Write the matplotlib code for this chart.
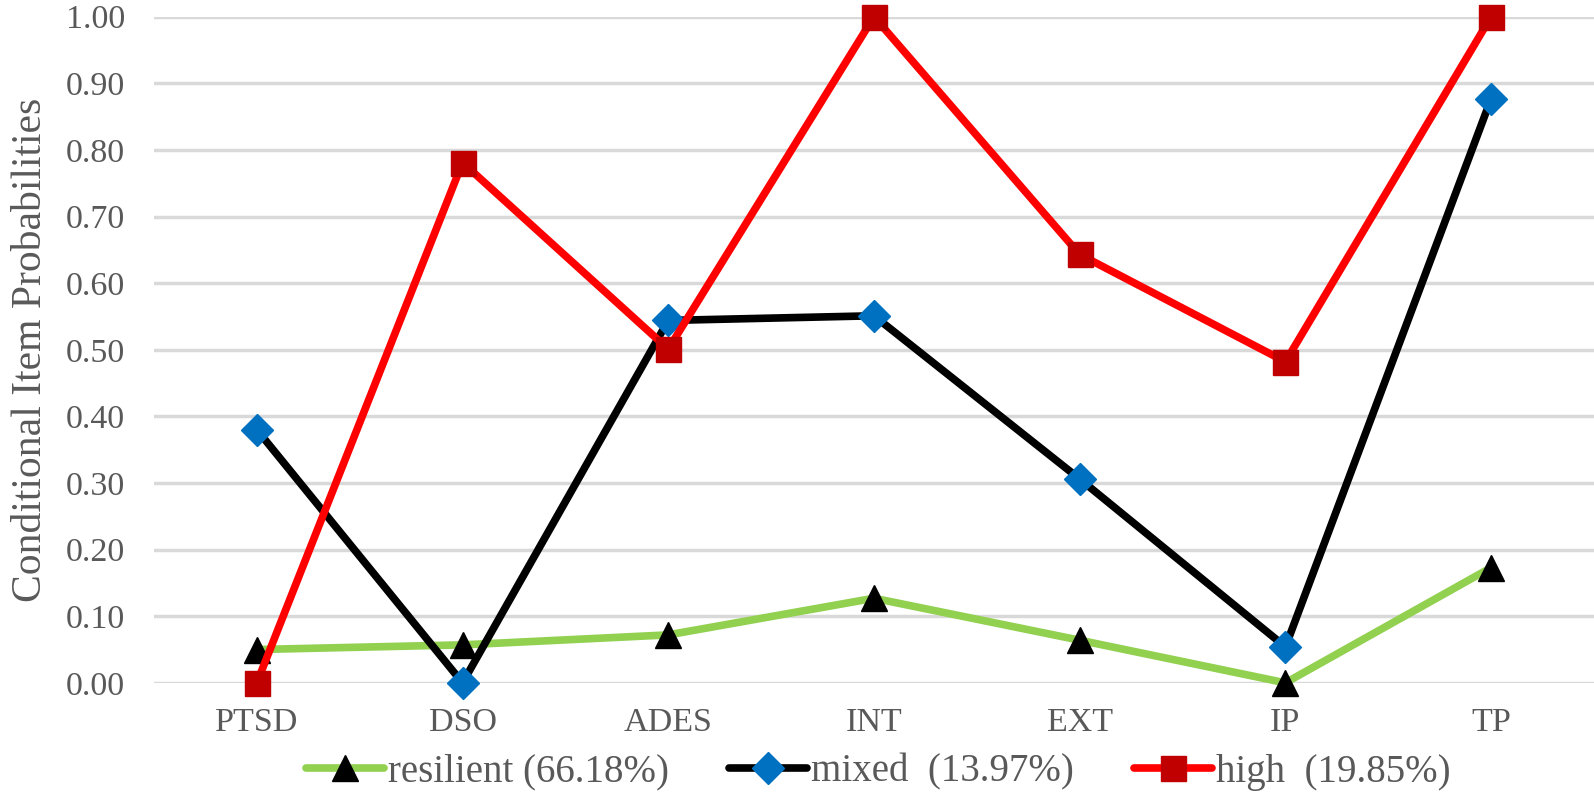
import matplotlib
matplotlib.use("Agg")
import matplotlib.pyplot as plt

# data
categories = ["PTSD", "DSO", "ADES", "INT", "EXT", "IP", "TP"]
resilient = [0.05, 0.057, 0.072, 0.127, 0.064, 0.00, 0.173]
mixed = [0.38, 0.00, 0.544, 0.551, 0.306, 0.054, 0.877]
high = [0.00, 0.781, 0.501, 1.00, 0.643, 0.482, 1.00]
labels = ["resilient (66.18%)", "mixed  (13.97%)", "high  (19.85%)"]
yticks = [0.0, 0.1, 0.2, 0.3, 0.4, 0.5, 0.6, 0.7, 0.8, 0.9, 1.0]

plt.rcParams['font.family'] = ['Liberation Serif', 'DejaVu Serif']
gray = '#595959'

fig = plt.figure(figsize=(15.94, 7.94), dpi=100)
ax = fig.add_axes([0.0966, 0.140, 0.9034, 0.839])

x = list(range(len(categories)))
style = dict(lw=5.5, solid_capstyle='round', solid_joinstyle='round', clip_on=False)
ax.plot(x, resilient, color='#92d050', marker='^', ms=19,
        mfc='black', mec='black', label=labels[0], zorder=3, **style)
ax.plot(x, mixed, color='black', marker='D', ms=16,
        mfc='#0070c0', mec='#0070c0', label=labels[1], zorder=4, **style)
ax.plot(x, high, color='#ff0000', marker='s', ms=18,
        mfc='#c00000', mec='#c00000', label=labels[2], zorder=5, **style)

ax.set_xlim(-0.5, len(categories) - 0.5)
ax.set_ylim(0, 1)
ax.set_xticks(x)
ax.set_xticklabels(categories)
ax.set_yticks(yticks)
ax.set_yticklabels([f"{v:.2f}" for v in yticks])
ax.tick_params(length=0, labelsize=24.5, colors=gray)
ax.tick_params(axis='x', pad=18)
ax.tick_params(axis='y', pad=21)
ax.grid(axis='y', color='#d9d9d9', lw=2.5)
ax.set_axisbelow(True)
for s in ax.spines.values():
    s.set_visible(False)

ax.set_ylabel("Conditional Item Probabilities", fontsize=30, color=gray)
ax.yaxis.set_label_coords(-0.072, 0.5)

ax.legend(loc='center', bbox_to_anchor=(0.503, -0.134), ncol=3, frameon=False,
          fontsize=28, labelcolor=gray, handlelength=2.0, handletextpad=0.1,
          columnspacing=1.55)

fig.savefig("out.png", dpi=100)
